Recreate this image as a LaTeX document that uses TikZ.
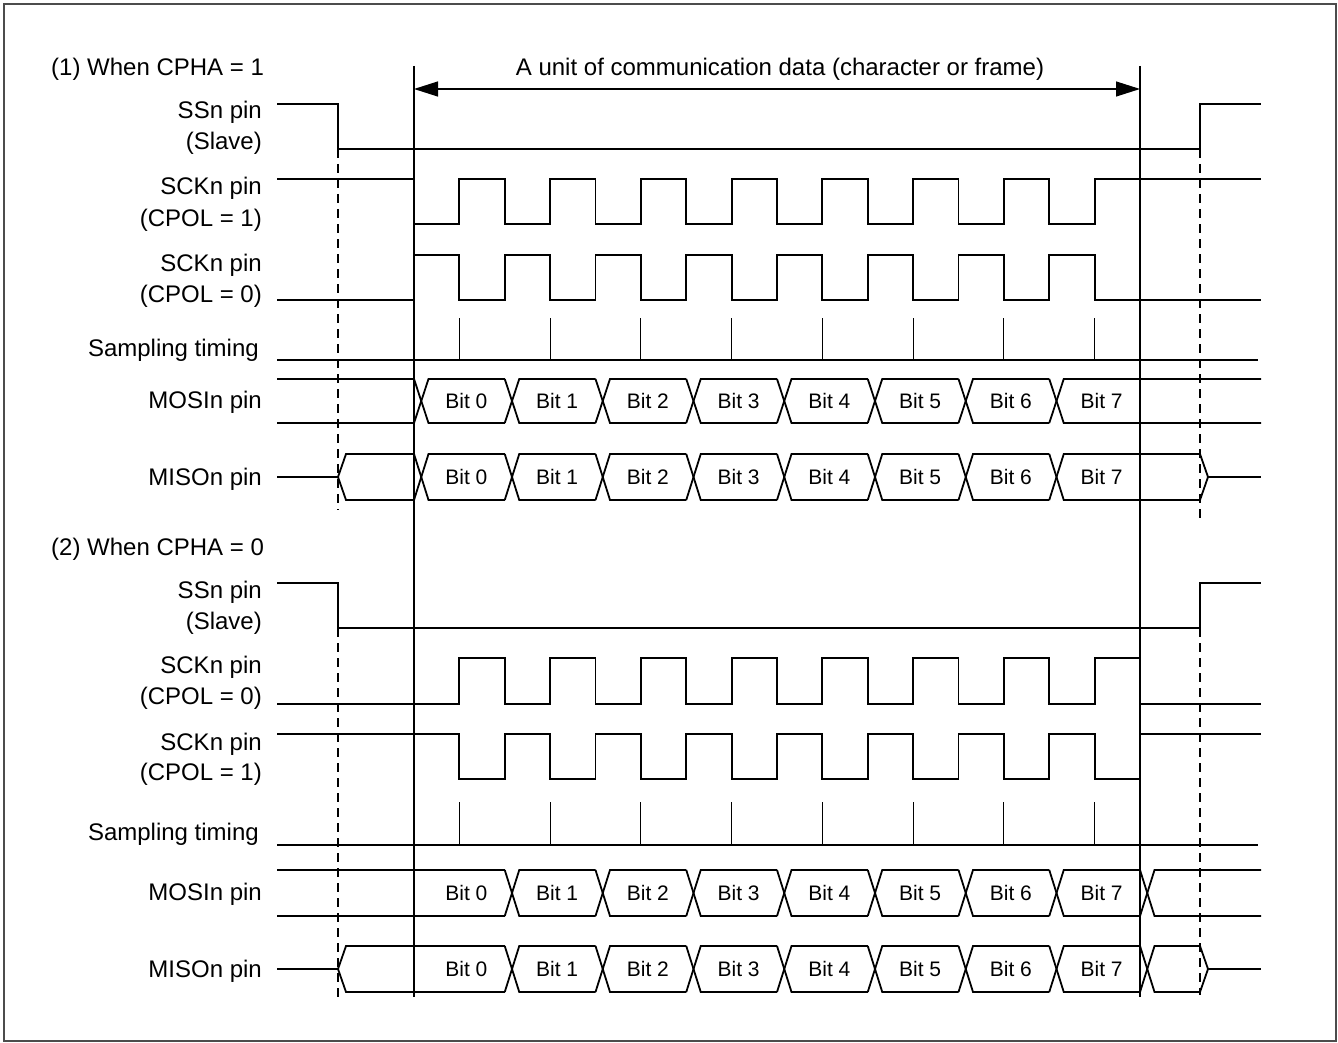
\documentclass[tikz,border=0pt]{standalone}
\usepackage{fontspec}
\setmainfont{Liberation Sans}
\usetikzlibrary{arrows.meta}
\newcommand\busx[4]{%
  \draw[sig] (#1,#3) -- ++(14.5,#4-#3) -- (#2,#4);
  \draw[sig] (#1,#4) -- ++(14.5,#3-#4) -- (#2,#3);}
\begin{document}
\begin{tikzpicture}[x=1pt,y=-1pt,
  sig/.style={line width=1.8pt, line join=miter},
  refl/.style={line width=1.2pt},
  dsh/.style={line width=1.2pt, dash pattern=on 9pt off 6pt},
  lab/.style={font=\fontsize{24}{28}\selectfont, anchor=base east, inner sep=0pt},
  ttl/.style={font=\fontsize{24}{28}\selectfont, anchor=base west, inner sep=0pt},
  bitlab/.style={font=\fontsize{21}{24}\selectfont, inner sep=0pt}]
\useasboundingbox (0,0) rectangle (1338,1043);
\draw[line width=2pt, black!70] (4,4) rectangle (1336,1041);

% ---------- reference lines ----------
\coordinate (L1t) at (414,66);   \coordinate (L1b) at (414,997);
\coordinate (L2t) at (1140,66);  \coordinate (L2b) at (1140,997);
\draw[refl] (L1t) -- (L1b);
\draw[refl] (L2t) -- (L2b);
\draw[dsh] (338,149) -- (338,510);
\draw[dsh] (1200,149) -- (1200,522);
\draw[dsh] (338,628) -- (338,997);
\draw[dsh] (1200,628) -- (1200,995);

% arrow
\coordinate (A1) at (414,89); \coordinate (A2) at (1140,89);
\draw[refl, {Triangle[length=24pt,width=15pt]}-{Triangle[length=24pt,width=15pt]}] (A1) -- (A2);
\node[font=\fontsize{24}{28}\selectfont, anchor=base, inner sep=0pt] (unit) at (780,76) {A unit of communication data (character or frame)};

% ---------- titles and labels ----------
\node[ttl] (t1) at (51,76) {(1) When CPHA = 1};
\node[lab] (a1) at (262,119) {SSn pin};
\node[lab] (a2) at (262,150) {(Slave)};
\node[lab] (a3) at (262,195) {SCKn pin};
\node[lab] (a4) at (262,226) {(CPOL = 1)};
\node[lab] (a5) at (262,271) {SCKn pin};
\node[lab] (a6) at (262,302) {(CPOL = 0)};
\node[lab] (a7) at (259,356) {Sampling timing};
\node[lab] (a8) at (262,408) {MOSIn pin};
\node[lab] (a9) at (262,485) {MISOn pin};

\node[ttl] (t2) at (51,555) {(2) When CPHA = 0};
\node[lab] (b1) at (262,598) {SSn pin};
\node[lab] (b2) at (262,629) {(Slave)};
\node[lab] (b3) at (262,673) {SCKn pin};
\node[lab] (b4) at (262,704) {(CPOL = 0)};
\node[lab] (b5) at (262,750) {SCKn pin};
\node[lab] (b6) at (262,780) {(CPOL = 1)};
\node[lab] (b7) at (259,840) {Sampling timing};
\node[lab] (b8) at (262,900) {MOSIn pin};
\node[lab] (b9) at (262,977) {MISOn pin};

% ---------- section 1 ----------
% SSn
\draw[sig] (277,104) -- (338,104) -- (338,149) -- (1200,149) -- (1200,104) -- (1261,104);
% SCK CPOL=1
\draw[sig] (277,179) -- (414,179)
  \foreach \j [evaluate=\j as \xa using 414+90.75*\j,
               evaluate=\j as \xb using 459.375+90.75*\j,
               evaluate=\j as \xc using 504.75+90.75*\j] in {0,...,7}
  { -- (\xa,224) -- (\xb,224) -- (\xb,179) -- (\xc,179) } -- (1261,179);
% SCK CPOL=0
\draw[sig] (277,300) -- (414,300)
  \foreach \j [evaluate=\j as \xa using 414+90.75*\j,
               evaluate=\j as \xb using 459.375+90.75*\j,
               evaluate=\j as \xc using 504.75+90.75*\j] in {0,...,7}
  { -- (\xa,255) -- (\xb,255) -- (\xb,300) -- (\xc,300) } -- (1261,300);
% sampling
\draw[sig] (277,360) -- (1258,360);
\foreach \j [evaluate=\j as \xb using 459.375+90.75*\j] in {0,...,7}
  \draw[refl] (\xb,318) -- (\xb,360);
% MOSI
\draw[sig] (277,379) -- (414,379);
\draw[sig] (277,423) -- (414,423);
\foreach \j [evaluate=\j as \xs using 414+90.75*\j,
             evaluate=\j as \xe using 504.75+90.75*\j] in {0,...,6}
  {\busx{\xs}{\xe}{379}{423}}
\busx{1049.25}{1261}{379}{423}
% MISO
\draw[sig] (277,477) -- (338,477) -- (346,454) -- (414,454);
\draw[sig] (338,477) -- (346,500) -- (414,500);
\foreach \j [evaluate=\j as \xs using 414+90.75*\j,
             evaluate=\j as \xe using 504.75+90.75*\j] in {0,...,6}
  {\busx{\xs}{\xe}{454}{500}}
\busx{1049.25}{1200}{454}{500}
\draw[sig] (1200,454) -- (1208,477) -- (1200,500);
\draw[sig] (1208,477) -- (1261,477);
% bit labels
\foreach \j [evaluate=\j as \xc using 466.4+90.75*\j] in {0,...,7}{
  \node[bitlab] (mo1\j) at (\xc,401) {Bit \j};
  \node[bitlab] (mi1\j) at (\xc,477) {Bit \j};
}

% ---------- section 2 ----------
% SSn
\draw[sig] (277,583) -- (338,583) -- (338,628) -- (1200,628) -- (1200,583) -- (1261,583);
% SCK CPOL=0
\draw[sig] (277,704)
  \foreach \j [evaluate=\j as \xb using 459.375+90.75*\j,
               evaluate=\j as \xc using 504.75+90.75*\j] in {0,...,7}
  { -- (\xb,704) -- (\xb,658) -- (\xc,658) -- (\xc,704) } -- (1261,704);
% SCK CPOL=1
\draw[sig] (277,734)
  \foreach \j [evaluate=\j as \xb using 459.375+90.75*\j,
               evaluate=\j as \xc using 504.75+90.75*\j] in {0,...,7}
  { -- (\xb,734) -- (\xb,779) -- (\xc,779) -- (\xc,734) } -- (1261,734);
% sampling
\draw[sig] (277,845) -- (1258,845);
\foreach \j [evaluate=\j as \xb using 459.375+90.75*\j] in {0,...,7}
  \draw[refl] (\xb,802) -- (\xb,845);
% MOSI
\draw[sig] (277,870) -- (504.75,870);
\draw[sig] (277,916) -- (504.75,916);
\foreach \j [evaluate=\j as \xs using 504.75+90.75*\j,
             evaluate=\j as \xe using 595.5+90.75*\j] in {0,...,6}
  {\busx{\xs}{\xe}{870}{916}}
\busx{1140}{1261}{870}{916}
% MISO
\draw[sig] (277,969) -- (338,969) -- (346,946) -- (504.75,946);
\draw[sig] (338,969) -- (346,992) -- (504.75,992);
\foreach \j [evaluate=\j as \xs using 504.75+90.75*\j,
             evaluate=\j as \xe using 595.5+90.75*\j] in {0,...,6}
  {\busx{\xs}{\xe}{946}{992}}
\busx{1140}{1200}{946}{992}
\draw[sig] (1200,946) -- (1208,969) -- (1200,992);
\draw[sig] (1208,969) -- (1261,969);
% bit labels
\foreach \j [evaluate=\j as \xc using 466.4+90.75*\j] in {0,...,7}{
  \node[bitlab] (mo2\j) at (\xc,893) {Bit \j};
  \node[bitlab] (mi2\j) at (\xc,969) {Bit \j};
}
\end{tikzpicture}
\end{document}
